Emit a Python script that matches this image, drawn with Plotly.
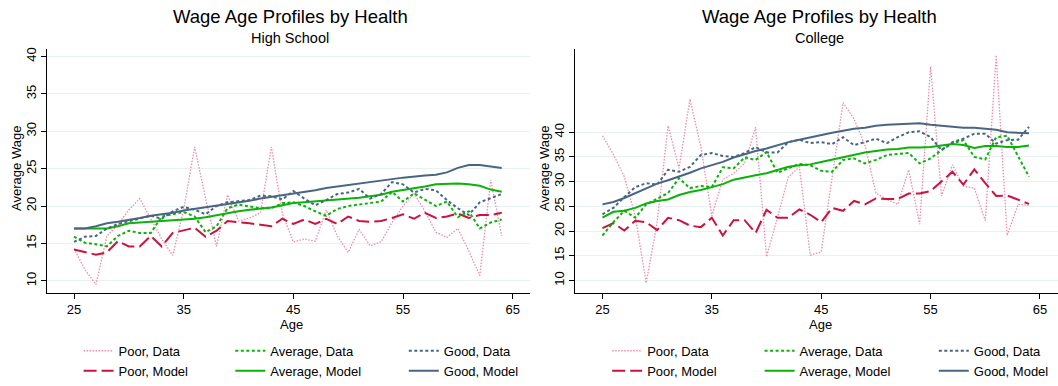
import plotly.graph_objects as go

ages = list(range(25, 65))

# High School panel
hs_poor_data = [14.3, 11.5, 9.5, 16.0, 17.5, 19.5, 21.0, 18.2, 15.6, 13.4,
                19.5, 27.9, 21.0, 14.6, 21.5, 18.0, 18.4, 19.1, 27.9, 19.0,
                15.2, 15.6, 15.3, 19.5, 16.0, 13.8, 16.9, 14.7, 15.2, 17.8,
                20.0, 21.7, 19.3, 16.5, 15.8, 17.0, 14.0, 10.7, 23.5, 16.0]
hs_poor_model = [14.2, 13.9, 13.5, 13.8, 15.3, 14.6, 14.6, 16.0, 14.6, 16.4,
                 16.7, 17.1, 15.9, 16.7, 18.0, 17.9, 17.7, 17.5, 17.3, 18.3,
                 17.6, 18.2, 17.6, 18.3, 17.6, 18.6, 18.0, 17.9, 18.0, 18.4,
                 18.9, 18.3, 19.1, 18.4, 18.6, 19.0, 18.4, 18.8, 18.8, 19.1]
hs_avg_data = [15.9, 15.1, 14.9, 14.6, 16.0, 16.7, 16.4, 16.4, 18.6, 18.9,
               19.2, 18.6, 16.5, 17.3, 19.7, 20.2, 19.9, 19.7, 19.7, 20.4,
               20.5, 20.0, 19.3, 18.7, 19.6, 20.0, 20.2, 20.4, 20.6, 21.9,
               20.6, 21.7, 20.9, 20.0, 20.6, 18.5, 19.3, 17.0, 17.8, 18.2]
hs_avg_model = [17.0, 17.0, 17.0, 17.0, 17.3, 17.7, 17.8, 17.9, 18.0, 18.1,
                18.2, 18.3, 18.5, 18.8, 19.1, 19.3, 19.5, 19.6, 19.8, 20.1,
                20.4, 20.5, 20.6, 20.7, 20.8, 20.9, 21.1, 21.3, 21.5, 21.9,
                22.1, 22.3, 22.6, 22.9, 23.0, 23.0, 22.9, 22.7, 22.2, 21.9]
hs_good_data = [15.2, 15.9, 16.0, 17.0, 17.6, 18.0, 18.4, 18.7, 18.3, 19.3,
                19.9, 19.5, 18.9, 20.0, 20.5, 20.6, 20.8, 21.4, 21.3, 20.9,
                22.0, 21.0, 20.1, 20.8, 21.6, 21.8, 22.3, 21.0, 21.6, 23.2,
                22.9, 21.8, 22.3, 22.1, 20.8, 19.7, 18.8, 20.5, 21.0, 21.6]
hs_good_model = [17.0, 17.0, 17.3, 17.7, 17.9, 18.1, 18.4, 18.7, 18.9, 19.1,
                 19.4, 19.6, 19.8, 20.0, 20.3, 20.5, 20.7, 21.0, 21.2, 21.5,
                 21.7, 21.9, 22.1, 22.4, 22.6, 22.8, 23.0, 23.3, 23.5, 23.6,
                 23.8, 24.0, 24.1, 24.2, 24.5, 25.1, 25.5, 25.5, 25.3, 25.1]

# College panel
co_poor_data = [39.3, 35.5, 31.0, 23.0, 9.5, 21.8, 41.3, 32.7, 46.7, 37.0,
                23.1, 30.4, 31.7, 33.7, 41.0, 14.8, 22.7, 31.0, 33.0, 15.1,
                15.8, 30.4, 46.0, 42.7, 37.4, 27.7, 26.4, 25.4, 32.4, 21.4,
                53.3, 27.1, 33.4, 29.1, 28.7, 22.1, 55.6, 19.1, 25.4, 25.2]
co_poor_model = [20.6, 21.6, 20.1, 22.1, 21.8, 20.2, 22.7, 22.2, 21.1, 20.8,
                 22.7, 19.1, 22.2, 22.2, 19.6, 24.3, 22.7, 22.7, 24.4, 23.3,
                 21.8, 24.7, 24.1, 26.1, 25.4, 26.6, 26.5, 26.5, 27.6, 27.6,
                 28.1, 30.1, 32.0, 29.4, 32.5, 29.7, 27.1, 27.2, 26.4, 25.5]
co_avg_data = [19.1, 21.8, 24.1, 22.7, 25.4, 26.5, 27.7, 30.7, 28.7, 29.1,
               28.9, 32.9, 32.7, 34.9, 34.4, 36.0, 31.8, 32.7, 33.6, 33.3,
               32.2, 32.0, 34.4, 34.7, 33.7, 34.4, 35.4, 35.6, 35.8, 33.7,
               34.7, 36.4, 37.8, 38.4, 35.0, 34.5, 39.0, 39.3, 35.0, 31.0]
co_avg_model = [22.7, 23.9, 24.1, 24.7, 25.6, 26.1, 26.4, 27.3, 27.9, 28.3,
                28.9, 29.5, 30.4, 30.9, 31.3, 31.7, 32.4, 33.0, 33.3, 33.5,
                34.0, 34.5, 34.9, 35.4, 35.9, 36.2, 36.5, 36.6, 36.9, 36.9,
                37.0, 37.3, 37.6, 37.4, 36.8, 37.2, 37.2, 37.0, 37.0, 37.3]
co_good_data = [23.4, 24.7, 26.9, 28.9, 29.7, 29.4, 32.4, 32.0, 33.0, 35.4,
                35.8, 35.2, 35.0, 35.8, 37.0, 35.9, 35.9, 38.0, 38.5, 37.8,
                38.0, 37.6, 39.0, 37.4, 38.0, 38.7, 37.8, 39.0, 40.0, 40.2,
                39.0, 36.4, 38.0, 38.7, 39.7, 39.7, 37.7, 38.4, 38.5, 41.1]
co_good_model = [25.4, 25.9, 26.7, 27.7, 28.7, 29.6, 30.3, 31.0, 31.8, 32.7,
                 33.4, 34.0, 34.9, 35.6, 36.2, 36.7, 37.4, 38.0, 38.5, 39.0,
                 39.5, 39.9, 40.3, 40.7, 40.9, 41.3, 41.5, 41.6, 41.6, 41.8,
                 41.5, 41.3, 41.0, 40.9, 40.9, 40.7, 40.5, 40.0, 39.9, 39.8]

y_ticks = [10, 15, 20, 25, 30, 35, 40]
x_ticks = [25, 35, 45, 55, 65]

W, H = 1058, 386
FONT = "Liberation Sans, Arial, Helvetica, sans-serif"

PINK = "rgb(236,140,168)"
CRIMSON = "rgb(204,18,62)"
GREEN = "rgb(10,178,10)"
SLATE = "rgb(72,102,132)"
GRID = "rgb(232,240,243)"

styles = {
    "Poor, Data": dict(color=PINK, width=1.3, dash="1.5px,1.5px"),
    "Poor, Model": dict(color=CRIMSON, width=2, dash="13px,5px"),
    "Average, Data": dict(color=GREEN, width=2, dash="3px,2.5px"),
    "Average, Model": dict(color=GREEN, width=2),
    "Good, Data": dict(color=SLATE, width=2, dash="3px,2.5px"),
    "Good, Model": dict(color=SLATE, width=2),
}

panels = [
    dict(xa="x", ya="y", legends=("legend", "legend2", "legend3"),
         series=[("Poor, Data", hs_poor_data), ("Poor, Model", hs_poor_model),
                 ("Average, Data", hs_avg_data), ("Average, Model", hs_avg_model),
                 ("Good, Data", hs_good_data), ("Good, Model", hs_good_model)]),
    dict(xa="x2", ya="y2", legends=("legend4", "legend5", "legend6"),
         series=[("Poor, Data", co_poor_data), ("Poor, Model", co_poor_model),
                 ("Average, Data", co_avg_data), ("Average, Model", co_avg_model),
                 ("Good, Data", co_good_data), ("Good, Model", co_good_model)]),
]

fig = go.Figure()
for p in panels:
    for i, (name, vals) in enumerate(p["series"]):
        fig.add_trace(go.Scatter(
            x=ages, y=vals, mode="lines", name=name,
            xaxis=p["xa"], yaxis=p["ya"],
            line=dict(shape="linear", **styles[name]),
            legend=p["legends"][i // 2],
            showlegend=True,
        ))

# plot-region geometry (pixels)
y_top, y_bot = 49.5, 298.3
dom_y = [(H - y_bot) / H, (H - y_top) / H]

common_x = dict(
    tickvals=x_ticks, ticks="outside", ticklen=5, tickcolor="black",
    showline=True, linecolor="black", linewidth=1, showgrid=False,
    zeroline=False, tickfont=dict(size=13, color="black", family=FONT),
    automargin=False,
)
common_y = dict(
    tickvals=y_ticks, ticks="outside", ticklen=5, tickcolor="black",
    showline=True, linecolor="black", linewidth=1, showgrid=True,
    gridcolor=GRID, gridwidth=1, zeroline=False, tickangle=-90,
    tickfont=dict(size=13, color="black", family=FONT), automargin=False,
)

fig.update_layout(
    width=W, height=H,
    margin=dict(l=0, r=0, t=0, b=0),
    paper_bgcolor="white", plot_bgcolor="white",
    font=dict(family=FONT, size=13, color="black"),
    xaxis=dict(domain=[46.7 / W, 530 / W], range=[22.51, 66.58], anchor="y", **common_x),
    yaxis=dict(domain=dom_y, range=[8.39, 41.05], anchor="x", **common_y),
    xaxis2=dict(domain=[575 / W, 1.0], range=[22.49, 66.65], anchor="y2", **common_x),
    yaxis2=dict(domain=dom_y, range=[7.49, 56.93], anchor="x2", **common_y),
)

# legends: one column per health group, under each panel
legend_x = [78.6, 230.3, 403.8, 607.2, 759.6, 933.8]
legend_names = ["legend", "legend2", "legend3", "legend4", "legend5", "legend6"]
for nm, lx in zip(legend_names, legend_x):
    fig.update_layout({nm: dict(
        x=lx / W, xanchor="left", y=1 - 342 / H, yanchor="top",
        orientation="v", bgcolor="rgba(0,0,0,0)", borderwidth=0,
        font=dict(size=13, color="black", family=FONT),
        tracegroupgap=0, traceorder="normal",
    )})

annotations = []
for cx, sub in [(290, "High School"), (819, "College")]:
    annotations.append(dict(text="Wage Age Profiles by Health", x=cx / W, y=1 - 16.3 / H,
                            xref="paper", yref="paper", showarrow=False,
                            xanchor="center", yanchor="middle",
                            font=dict(size=18.5, color="black", family=FONT)))
    annotations.append(dict(text=sub, x=cx / W, y=1 - 39 / H,
                            xref="paper", yref="paper", showarrow=False,
                            xanchor="center", yanchor="middle",
                            font=dict(size=14.5, color="black", family=FONT)))
    annotations.append(dict(text="Age", x=(cx + 1) / W, y=1 - 330.5 / H,
                            xref="paper", yref="paper", showarrow=False,
                            xanchor="center", yanchor="middle",
                            font=dict(size=13, color="black", family=FONT)))
for tx in [17, 545]:
    annotations.append(dict(text="Average Wage", x=tx / W, y=1 - 172 / H,
                            xref="paper", yref="paper", showarrow=False,
                            textangle=-90, xanchor="center", yanchor="middle",
                            font=dict(size=13, color="black", family=FONT)))
fig.update_layout(annotations=annotations)

fig.write_html("out.html")
